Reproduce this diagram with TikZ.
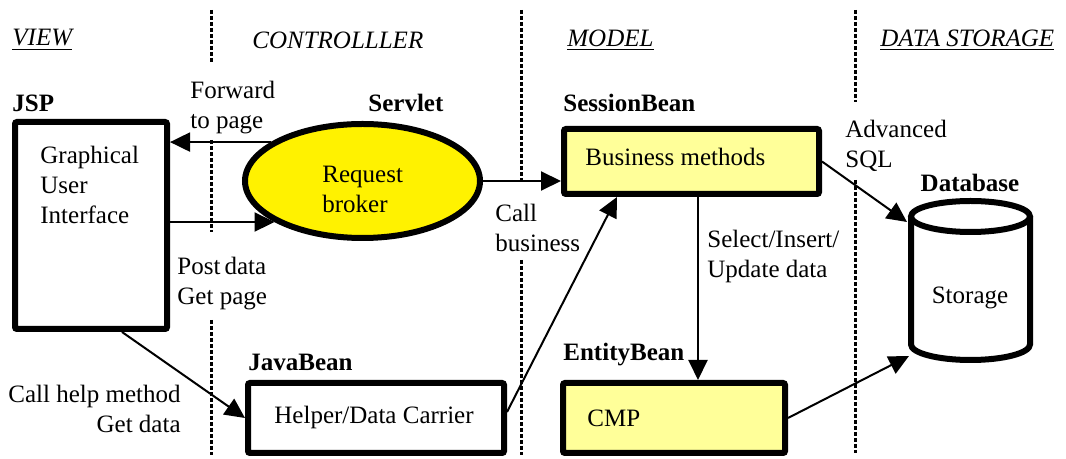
\documentclass[tikz,border=0pt]{standalone}
\usepackage{fontspec}
\setmainfont{Liberation Serif}
\usetikzlibrary{arrows.meta,shapes.geometric}
\begin{document}
\begin{tikzpicture}[x=0.5pt,y=-0.5pt,
  every node/.style={font=\fontsize{12.5}{15}\selectfont},
  txt/.style={inner sep=0pt, align=left, anchor=west},
  lbl/.style={inner sep=0pt, anchor=west, font=\fontsize{12.5}{15}\selectfont\bfseries},
  hdr/.style={inner sep=0pt, anchor=west, font=\fontsize{12.5}{15}\selectfont\itshape},
  box/.style={draw, line width=3pt, rounded corners=1pt, inner sep=0pt},
  arr/.style={line width=1pt, -{Triangle[length=10pt,width=9.5pt]}},
  divider/.style={line width=1.5pt, dash pattern=on 2pt off 1pt},
]
\useasboundingbox (0,0) rectangle (1066,459);

% dividers
\draw[divider] (211,10) -- (211,62);
\draw[divider] (211,140) -- (211,232);
\draw[divider] (211,320) -- (211,455);
\draw[divider] (521,10) -- (521,180);
\draw[divider] (521,260) -- (521,455);
\draw[divider] (855,10) -- (855,102);
\draw[divider] (855,180) -- (855,453);

% headers
\node[hdr] (hview) at (12,40) {\underline{VIEW}};
\node[hdr] (hctrl) at (252,40) {CONTROLLLER};
\node[hdr] (hmodel) at (567,40) {\underline{MODEL}};
\node[hdr] (hdata) at (880,40) {\underline{DATA STORAGE}};

% JSP
\node[lbl] (ljsp) at (12,103) {JSP};
\node[box, minimum width=76pt, minimum height=103.5pt] (jsp) at (91,225.5) {};
\node[txt] (tgui) at (40,185) {Graphical\\User\\Interface};

% Servlet
\node[lbl] (lserv) at (368,103) {Servlet};
\node[ellipse, draw, line width=3pt, fill=yellow, minimum width=117.5pt, minimum height=57pt, inner sep=0pt] (ell) at (362.5,181) {};
\node[txt] (treq) at (322,189) {Request\\broker};

% SessionBean
\node[lbl] (lsb) at (563,103) {SessionBean};
\node[box, fill={rgb,255:red,255;green,255;blue,153}, minimum width=127.5pt, minimum height=32.5pt] (sb) at (691.5,161.5) {};
\node[txt] (tbm) at (585,157) {Business methods};

% JavaBean
\node[lbl] (ljb) at (248,362) {JavaBean};
\node[box, fill=white, minimum width=128pt, minimum height=35pt] (jb) at (376,418) {};
\node[inner sep=0pt] (thelp) at (374,417) {Helper/Data Carrier};

% EntityBean
\node[lbl] (leb) at (563,355) {EntityBean};
\node[box, fill={rgb,255:red,255;green,255;blue,153}, minimum width=111pt, minimum height=35pt] (eb) at (674,418) {};
\node[txt] (tcmp) at (587,418) {CMP};

% Database cylinder
\node[lbl, anchor=center] (ldb) at (970,183) {Database};
\draw[line width=3pt, fill=white] (911,216.5) -- (911,344.5)
  arc[start angle=180, end angle=360, x radius=29.75pt, y radius=7.75pt] -- (1030,216.5);
\draw[line width=3pt, fill=white] (970.5,216.5) ellipse [x radius=29.75pt, y radius=7.75pt];
\node[inner sep=0pt] (tstor) at (970,298) {Storage};
\coordinate (dbin) at (907,222);
\coordinate (dbout) at (909,356);

% connector labels
\node[txt] (tfwd) at (190,108) {Forward\\to page};
\node[txt] (tpost) at (177,284) {Post\,data\\Get page};
\node[txt] (tcall) at (495,228) {Call\\business};
\node[txt] (tsql) at (845,146) {Advanced\\SQL};
\node[txt] (tsel) at (707,256) {Select/Insert/\\Update data};
\node[inner sep=0pt, align=right, anchor=east] (thelpm) at (181,409) {Call help method\\Get data};

% connectors
\draw[arr] (ell.157) -- (jsp.east |- ell.157);
\draw[arr] (jsp.east |- ell.205) -- (ell.205);
\draw[arr] (ell.east) -- (sb.west |- ell.east);
\draw[arr] (sb.east) -- (dbin);
\draw[arr] ([xshift=3.25pt]sb.south) -- ([xshift=3.25pt]sb.south |- eb.north);
\draw[arr] (eb.east) -- (dbout);
\draw[arr] ([xshift=15.5pt]jsp.south) -- (jb.west);
\draw[arr] ([yshift=3pt]jb.east) -- ([xshift=28pt]sb.south west);
\end{tikzpicture}
\end{document}
